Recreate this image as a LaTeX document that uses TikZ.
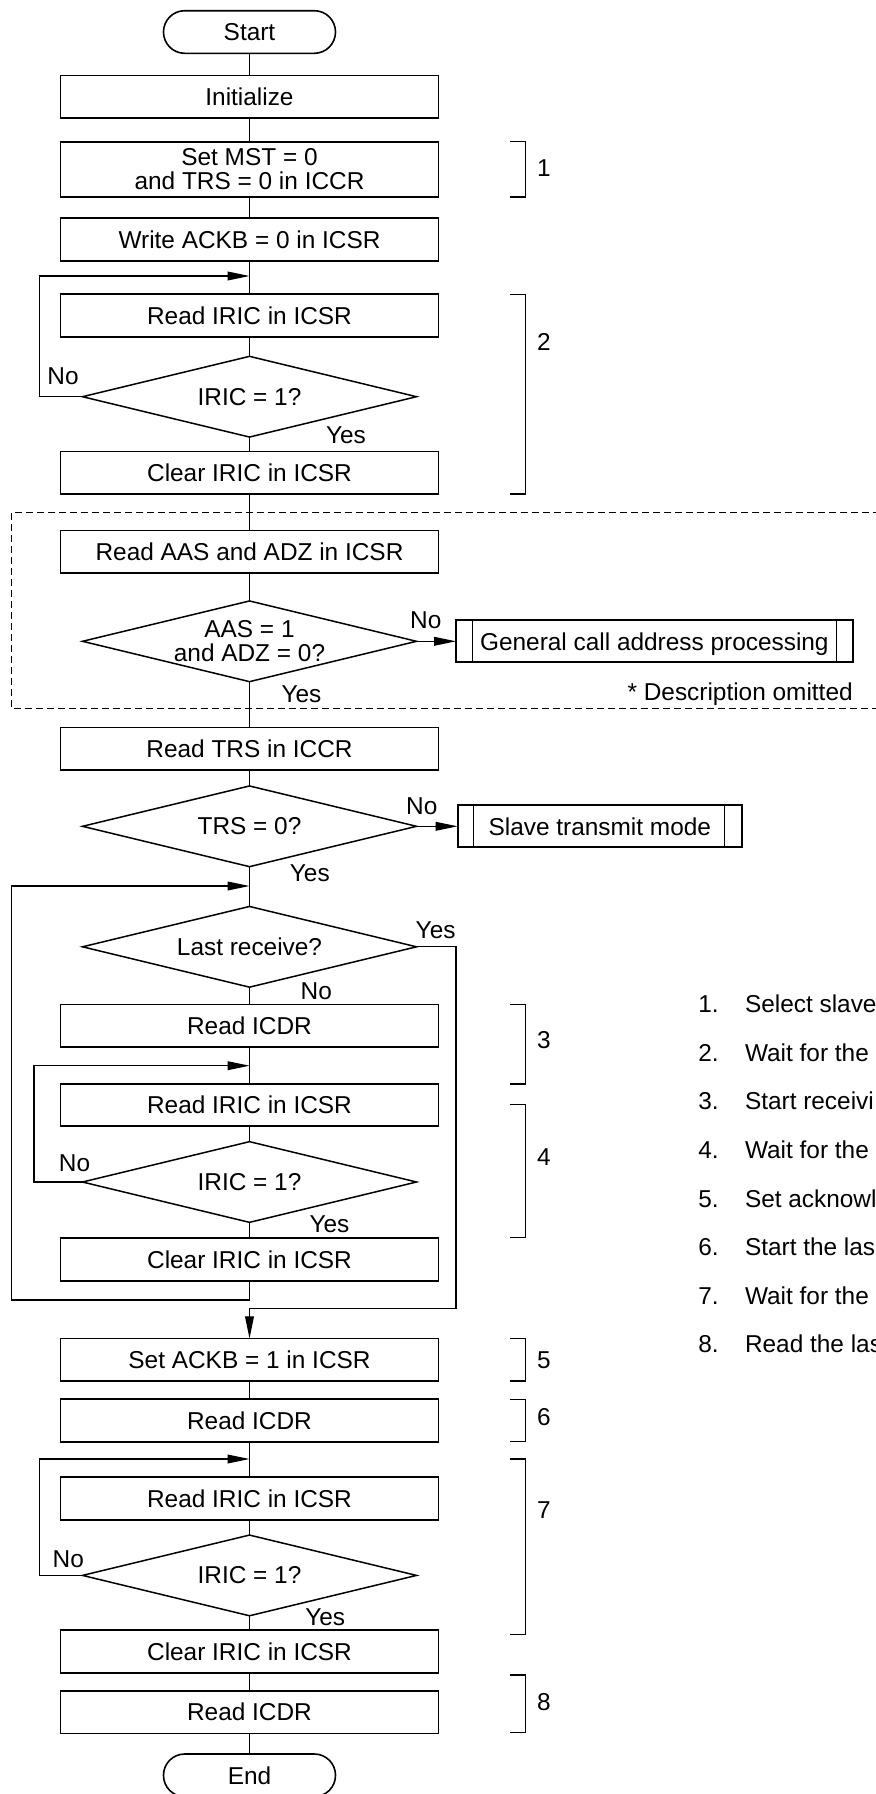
\documentclass[tikz,border=0pt]{standalone}
\usepackage{fontspec}
\setmainfont{Liberation Sans}
\usetikzlibrary{arrows.meta,shapes.geometric}
\tikzset{
  base/.style={inner sep=0pt, outer sep=0pt},
  proc/.style={base, draw, line width=0.9pt, minimum width=189pt, minimum height=21.3pt, align=center},
  term/.style={base, draw, line width=0.8pt, minimum width=86pt, minimum height=21.3pt, rounded corners=10.6pt},
  decision/.style={base, draw, diamond, aspect=4.14, line width=0.75pt, minimum width=167pt, minimum height=40.35pt, align=center},
  subproc/.style={base, draw, line width=0.9pt, minimum height=21pt, text depth=0pt},
  flow/.style={line width=0.55pt},
  flowarrow/.style={flow, -{Triangle[length=11pt,width=4.4pt]}},
  lbl/.style={base},
  brk/.style={line width=0.55pt},
  fence/.style={line width=0.55pt, dash pattern=on 3.3pt off 2.2pt},
}
\begin{document}
\begin{tikzpicture}[x=0.5pt,y=-0.5pt,font=\fontsize{12.2}{12}\selectfont]
\useasboundingbox (0,0) rectangle (875,1794);

% main column
\node[term] (start) at (249.5,32) {Start};
\node[proc] (init) at (249.5,96.7) {Initialize};
\node[proc, minimum height=27.65pt] (mst) at (249.5,169.3) {Set MST = 0\\and TRS = 0 in ICCR};
\node[proc] (ackb0) at (249.5,239.3) {Write ACKB = 0 in ICSR};
\coordinate (c1) at (249.5,276);
\node[proc] (riric1) at (249.5,315.5) {Read IRIC in ICSR};
\node[decision] (d1) at (249.5,396.7) {IRIC = 1?};
\node[proc] (clr1) at (249.5,472.8) {Clear IRIC in ICSR};
\node[proc] (raas) at (249.5,551.8) {Read AAS and ADZ in ICSR};
\node[decision] (d2) at (249.5,641.3) {AAS = 1\\and ADZ = 0?};
\node[subproc, minimum width=198.35pt] (gen) at (654.35,641.3) {General call address processing};
\node[proc] (rtrs) at (249.5,748.8) {Read TRS in ICCR};
\node[decision] (d3) at (249.5,826.3) {TRS = 0?};
\node[subproc, minimum width=142.2pt] (slave) at (599.8,826.3) {Slave transmit mode};
\coordinate (c2) at (249.5,886);
\node[decision] (d4) at (249.5,946.8) {Last receive?};
\node[proc] (ricdr1) at (249.5,1025.7) {Read ICDR};
\coordinate (c3) at (249.5,1065.7);
\node[proc] (riric2) at (249.5,1105) {Read IRIC in ICSR};
\node[decision] (d5) at (249.5,1182) {IRIC = 1?};
\node[proc] (clr2) at (249.5,1259.5) {Clear IRIC in ICSR};
\node[proc] (ackb1) at (249.5,1359.7) {Set ACKB = 1 in ICSR};
\node[proc] (ricdr2) at (249.5,1420.5) {Read ICDR};
\coordinate (c4) at (249.5,1459);
\node[proc] (riric3) at (249.5,1498.5) {Read IRIC in ICSR};
\node[decision] (d6) at (249.5,1575.4) {IRIC = 1?};
\node[proc] (clr3) at (249.5,1651.3) {Clear IRIC in ICSR};
\node[proc] (ricdr3) at (249.5,1712.2) {Read ICDR};
\node[term] (end) at (249.5,1775.3) {End};

% inner bars of predefined-process boxes
\draw[line width=0.65pt] ([xshift=8.2pt]gen.north west) -- ([xshift=8.2pt]gen.south west);
\draw[line width=0.65pt] ([xshift=-8.2pt]gen.north east) -- ([xshift=-8.2pt]gen.south east);
\draw[line width=0.65pt] ([xshift=8pt]slave.north west) -- ([xshift=8pt]slave.south west);
\draw[line width=0.65pt] ([xshift=-8.8pt]slave.north east) -- ([xshift=-8.8pt]slave.south east);

% straight connectors
\draw[flow] (start) -- (init);
\draw[flow] (init) -- (mst);
\draw[flow] (mst) -- (ackb0);
\draw[flow] (ackb0) -- (riric1);
\draw[flow] (riric1) -- (d1);
\draw[flow] (d1) -- (clr1);
\draw[flow] (clr1) -- (raas);
\draw[flow] (raas) -- (d2);
\draw[flowarrow] (d2.east) -- (gen.west);
\draw[flow] (d2) -- (rtrs);
\draw[flow] (rtrs) -- (d3);
\draw[flowarrow] (d3.east) -- (slave.west);
\draw[flow] (d3) -- (d4);
\draw[flow] (d4) -- (ricdr1);
\draw[flow] (ricdr1) -- (riric2);
\draw[flow] (riric2) -- (d5);
\draw[flow] (d5) -- (clr2);
\draw[flow] (ackb1) -- (ricdr2);
\draw[flow] (ricdr2) -- (riric3);
\draw[flow] (riric3) -- (d6);
\draw[flow] (d6) -- (clr3);
\draw[flow] (clr3) -- (ricdr3);
\draw[flow] (ricdr3) -- (end);

% loops
\coordinate (l1) at (39.6,276);
\draw[flowarrow] (d1.west) -| (l1) -- (c1);
\coordinate (l2) at (34,1065.7);
\draw[flowarrow] (d5.west) -| (l2) -- (c3);
\coordinate (l3) at (39.6,1459);
\draw[flowarrow] (d6.west) -| (l3) -- (c4);
\coordinate (o1) at (11.8,1300);
\draw[flowarrow] (clr2.south) |- (o1) |- (c2);
\coordinate (y1) at (456,1308.3);
\draw[flowarrow] (d4.east) -| (y1) -| (ackb1.north);

% dashed region
\draw[fence] (880,512.7) -- (11.5,512.7) -- (11.5,708.3) -- (880,708.3);

% yes/no labels
\node[lbl] at (63,375.8) {No};
\node[lbl] at (346,435.5) {Yes};
\node[lbl] at (425.8,620.5) {No};
\node[lbl] at (301.4,694.5) {Yes};
\node[lbl,anchor=base east] at (852.7,700) {* Description omitted};
\node[lbl] at (421.8,805.8) {No};
\node[lbl] at (309.8,872.8) {Yes};
\node[lbl] at (435.6,930.5) {Yes};
\node[lbl] at (316.3,991.3) {No};
\node[lbl] at (74.5,1163.5) {No};
\node[lbl] at (329.5,1223.8) {Yes};
\node[lbl] at (68.3,1559.5) {No};
\node[lbl] at (325.2,1617.5) {Yes};

% brackets
\draw[brk] (509.8,141.7) -- (525.3,141.7) -- (525.3,197) -- (509.8,197);
\draw[brk] (509.8,294.3) -- (525.3,294.3) -- (525.3,494) -- (509.8,494);
\draw[brk] (509.8,1004.3) -- (525.3,1004.3) -- (525.3,1084) -- (509.8,1084);
\draw[brk] (509.8,1104.7) -- (525.3,1104.7) -- (525.3,1237.7) -- (509.8,1237.7);
\draw[brk] (509.8,1338.3) -- (525.3,1338.3) -- (525.3,1381) -- (509.8,1381);
\draw[brk] (509.8,1399.3) -- (525.3,1399.3) -- (525.3,1441.7) -- (509.8,1441.7);
\draw[brk] (509.8,1459) -- (525.3,1459) -- (525.3,1634.3) -- (509.8,1634.3);
\draw[brk] (509.8,1675) -- (525.3,1675) -- (525.3,1732.7) -- (509.8,1732.7);
\node[lbl] (n1) at (544,168.3) {1};
\node[lbl] (n2) at (544,342) {2};
\node[lbl] (n3) at (544,1040) {3};
\node[lbl] (n4) at (544,1156.7) {4};
\node[lbl] (n5) at (544,1360) {5};
\node[lbl] (n6) at (544,1416.7) {6};
\node[lbl] (n7) at (544,1510) {7};
\node[lbl] (n8) at (544,1701.7) {8};

% legend list (cut at picture edge, as in the reference)
\node[lbl,anchor=base west] (k1) at (698.3,1012.7) {1.};
\node[lbl,anchor=base west] (t1) at (745,1012.7) {Select slave};
\node[lbl,anchor=base west] (k2) at (698.3,1061.3) {2.};
\node[lbl,anchor=base west] (t2) at (745,1061.3) {Wait for the};
\node[lbl,anchor=base west] (k3) at (698.3,1109.9) {3.};
\node[lbl,anchor=base west] (t3) at (745,1109.9) {Start receivi};
\node[lbl,anchor=base west] (k4) at (698.3,1158.4) {4.};
\node[lbl,anchor=base west] (t4) at (745,1158.4) {Wait for the};
\node[lbl,anchor=base west] (k5) at (698.3,1207) {5.};
\node[lbl,anchor=base west] (t5) at (745,1207) {Set acknowl};
\node[lbl,anchor=base west] (k6) at (698.3,1255.6) {6.};
\node[lbl,anchor=base west] (t6) at (745,1255.6) {Start the las};
\node[lbl,anchor=base west] (k7) at (698.3,1304.1) {7.};
\node[lbl,anchor=base west] (t7) at (745,1304.1) {Wait for the};
\node[lbl,anchor=base west] (k8) at (698.3,1352.7) {8.};
\node[lbl,anchor=base west] (t8) at (745,1352.7) {Read the las};
\end{tikzpicture}
\end{document}
